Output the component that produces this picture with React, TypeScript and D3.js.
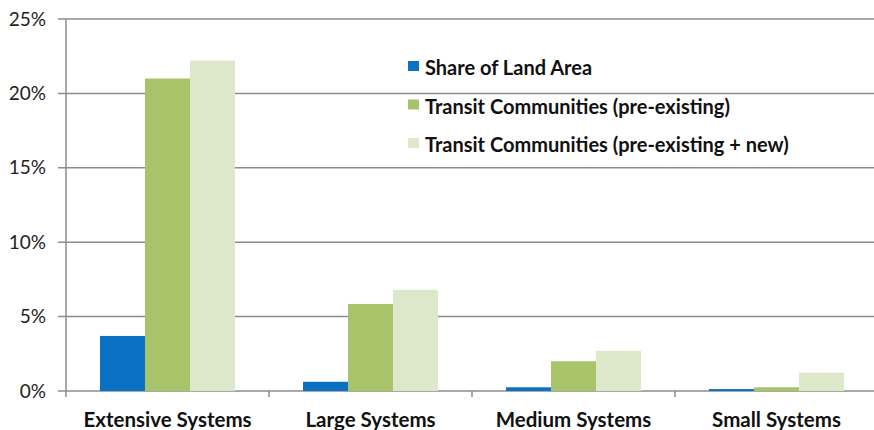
import React from "react";
import * as d3 from "d3";

const categories = ["Extensive Systems", "Large Systems", "Medium Systems", "Small Systems"];
const seriesNames = [
  "Share of Land Area",
  "Transit Communities (pre-existing)",
  "Transit Communities (pre-existing + new)",
];
const shareOfLandArea = [3.7, 0.62, 0.25, 0.13];
const transitPreExisting = [21.0, 5.85, 2.0, 0.25];
const transitPreExistingNew = [22.2, 6.8, 2.7, 1.23];
const yTicks = [0, 5, 10, 15, 20, 25];
const colors = ["#0a71c3", "#a7c46b", "#dde7c9"];

const W = 874;
const H = 430;
const left = 66;
const right = 878;
const top = 19;
const bottom = 391;
const font = "Lato, 'Open Sans', sans-serif";

export default function App() {
  const series = [shareOfLandArea, transitPreExisting, transitPreExistingNew];
  const y = d3.scaleLinear().domain([0, 25]).range([bottom, top]);
  const x0 = d3
    .scaleBand<string>()
    .domain(categories)
    .range([left, right])
    .paddingInner(0.335)
    .paddingOuter(0.1675);
  const x1 = d3
    .scaleBand<number>()
    .domain(d3.range(series.length))
    .range([0, x0.bandwidth()]);
  const step = x0.step();
  const boundaries = categories.slice(1).map((c) => (x0(c) as number) - (step - x0.bandwidth()) / 2);

  return (
    <svg
      width={W}
      height={H}
      style={{ position: "absolute", left: 0, top: 0, background: "#fff" }}
      fontFamily={font}
    >
      {yTicks.map((t) => (
        <g key={t}>
          <line x1={58} x2={W} y1={y(t)} y2={y(t)} stroke="#8c8c8c" strokeWidth={1.5} />
          <text x={46} y={y(t) + 6.5} textAnchor="end" fontSize={19} fill="#222">
            {t}%
          </text>
        </g>
      ))}
      <line x1={left} x2={left} y1={top} y2={bottom + 6} stroke="#8c8c8c" strokeWidth={1.5} />
      {boundaries.map((b, i) => (
        <line key={i} x1={b} x2={b} y1={bottom} y2={bottom + 6} stroke="#8c8c8c" strokeWidth={1.5} />
      ))}
      {categories.map((c, ci) => (
        <g key={c} transform={`translate(${x0(c)},0)`}>
          {series.map((s, si) => (
            <rect
              key={si}
              x={x1(si)}
              y={y(s[ci])}
              width={x1.bandwidth()}
              height={bottom - y(s[ci])}
              fill={colors[si]}
            />
          ))}
        </g>
      ))}
      {categories.map((c) => (
        <text
          key={c}
          x={(x0(c) as number) + x0.bandwidth() / 2}
          y={427}
          textAnchor="middle"
          fontSize={20.5}
          fontWeight="bold"
          fill="#111"
        >
          {c}
        </text>
      ))}
      {seriesNames.map((n, i) => {
        const baselines = [75, 113.5, 152];
        return (
          <g key={n}>
            <rect x={408} y={baselines[i] - 14} width={11} height={10} fill={colors[i]} />
            <text x={425} y={baselines[i]} fontSize={20} fontWeight="bold" fill="#111">
              {n}
            </text>
          </g>
        );
      })}
    </svg>
  );
}
